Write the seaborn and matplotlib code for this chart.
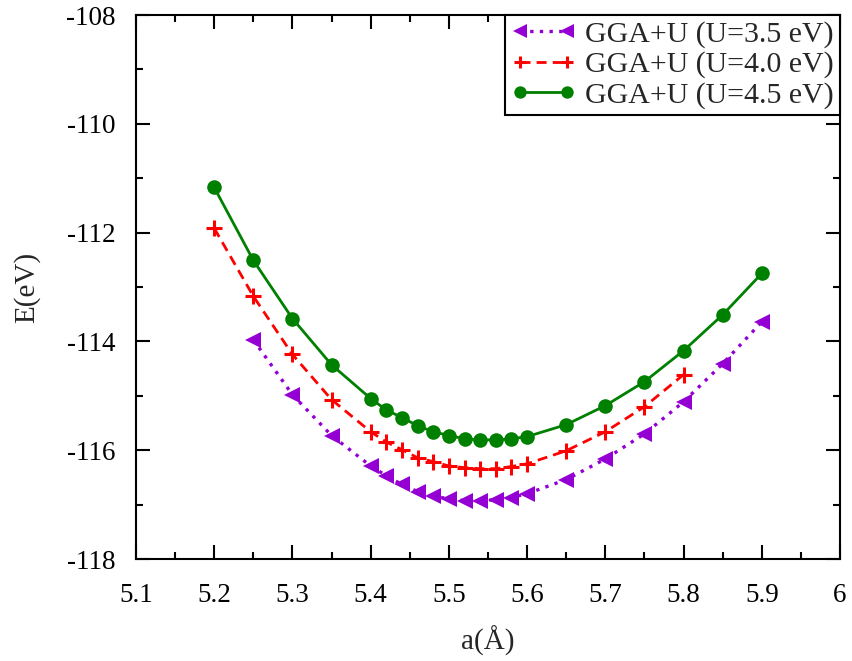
import matplotlib
matplotlib.use("Agg")
import matplotlib.pyplot as plt
import seaborn as sns
import pandas as pd
from matplotlib.ticker import MultipleLocator

# Data
a_u35 = [5.25, 5.30, 5.35, 5.40, 5.42, 5.44, 5.46, 5.48, 5.50, 5.52, 5.54, 5.56, 5.58, 5.60,
         5.65, 5.70, 5.75, 5.80, 5.85, 5.90]
e_u35 = [-113.97, -114.98, -115.73, -116.29, -116.47, -116.63, -116.76, -116.85, -116.89,
         -116.93, -116.93, -116.91, -116.87, -116.80, -116.54, -116.16, -115.70, -115.11,
         -114.41, -113.64]

a_u40 = [5.20, 5.25, 5.30, 5.35, 5.40, 5.42, 5.44, 5.46, 5.48, 5.50, 5.52, 5.54, 5.56, 5.58,
         5.60, 5.65, 5.70, 5.75, 5.80]
e_u40 = [-111.92, -113.17, -114.24, -115.07, -115.66, -115.85, -115.99, -116.14, -116.21,
         -116.29, -116.32, -116.34, -116.34, -116.30, -116.25, -116.01, -115.66, -115.20,
         -114.61]

a_u45 = [5.20, 5.25, 5.30, 5.35, 5.40, 5.42, 5.44, 5.46, 5.48, 5.50, 5.52, 5.54, 5.56, 5.58,
         5.60, 5.65, 5.70, 5.75, 5.80, 5.85, 5.90]
e_u45 = [-111.17, -112.51, -113.58, -114.43, -115.05, -115.26, -115.40, -115.55, -115.66,
         -115.73, -115.79, -115.81, -115.81, -115.79, -115.75, -115.53, -115.18, -114.74,
         -114.17, -113.51, -112.75]

labels = ["GGA+U (U=3.5 eV)", "GGA+U (U=4.0 eV)", "GGA+U (U=4.5 eV)"]
x_ticks = [5.1, 5.2, 5.3, 5.4, 5.5, 5.6, 5.7, 5.8, 5.9, 6.0]
x_tick_labels = ["5.1", "5.2", "5.3", "5.4", "5.5", "5.6", "5.7", "5.8", "5.9", "6"]
y_ticks = [-118, -116, -114, -112, -110, -108]

sns.set_style("ticks")
plt.rcParams['font.family'] = ['Liberation Serif', 'DejaVu Serif']

fig = plt.figure(figsize=(8.52, 6.61), dpi=100)
ax = fig.add_axes([0.1596, 0.1543, 0.8264, 0.8230])

d35 = pd.DataFrame({"a": a_u35, "E": e_u35})
d40 = pd.DataFrame({"a": a_u40, "E": e_u40})
d45 = pd.DataFrame({"a": a_u45, "E": e_u45})

purple, red, green = "#9400D3", "#FF0000", "#008000"

sns.lineplot(data=d35, x="a", y="E", ax=ax, color=purple, linestyle=(0, (1.0, 1.9)),
             linewidth=2.4, marker="<", markersize=12, markeredgewidth=0,
             markeredgecolor=purple, label=labels[0], dash_capstyle="butt")
sns.lineplot(data=d40, x="a", y="E", ax=ax, color=red, linestyle=(0, (3.6, 2.2)),
             linewidth=2, marker="+", markersize=11, markeredgewidth=2.2,
             markeredgecolor=red, label=labels[1])
sns.lineplot(data=d45, x="a", y="E", ax=ax, color=green, linestyle="-",
             linewidth=2, marker="o", markersize=10.5, markeredgewidth=0,
             markeredgecolor=green, label=labels[2])

ax.set_xlim(5.1, 6.0)
ax.set_ylim(-118, -108)
ax.set_xticks(x_ticks)
ax.set_xticklabels(x_tick_labels)
ax.set_yticks(y_ticks)
ax.set_yticklabels([str(v) for v in y_ticks])
ax.xaxis.set_minor_locator(MultipleLocator(0.05))
ax.yaxis.set_minor_locator(MultipleLocator(1))
ax.tick_params(which="both", direction="in", top=True, right=True, labelsize=19.5, width=1.5,
               colors="black")
ax.tick_params(which="major", length=10)
ax.tick_params(which="minor", length=5)
ax.tick_params(axis="x", pad=17)
ax.tick_params(axis="y", pad=15)
for s in ax.spines.values():
    s.set_linewidth(1.5)
    s.set_color("black")

ax.set_xlabel("a(Å)", fontsize=21, labelpad=13)
ax.set_ylabel("E(eV)", fontsize=21, labelpad=18)

leg = ax.legend(loc="upper right", fontsize=21.5, frameon=True, fancybox=False,
                edgecolor="black", framealpha=1, handlelength=2.2, handletextpad=0.3,
                borderpad=0.2, labelspacing=0.1, borderaxespad=0.0, markerscale=0.85,
                numpoints=2)
leg.get_frame().set_linewidth(1.5)

fig.savefig("out.png", dpi=100)
